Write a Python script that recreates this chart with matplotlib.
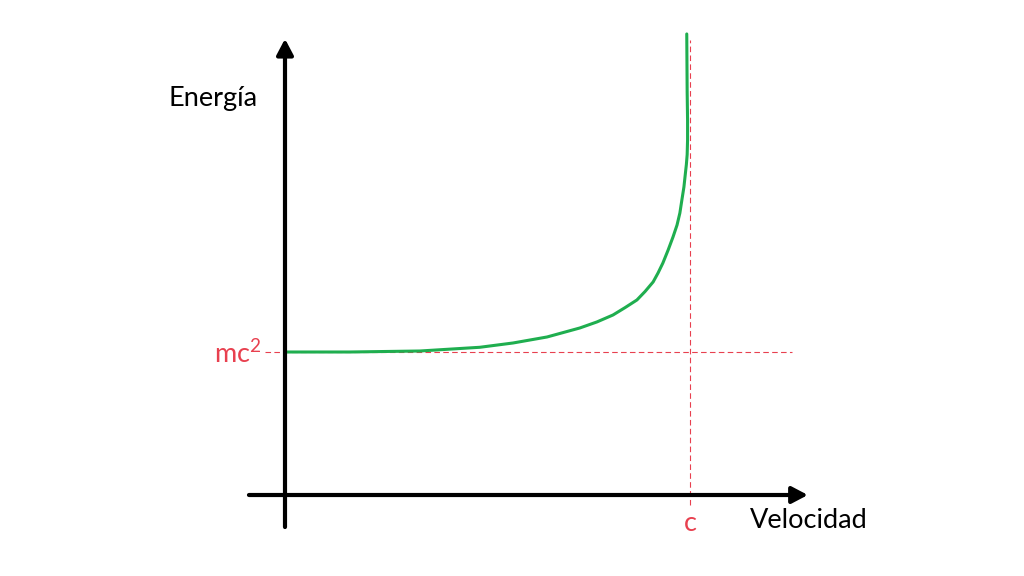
import numpy as np
import matplotlib.pyplot as plt

plt.rcParams['mathtext.fontset'] = 'custom'
plt.rcParams['mathtext.rm'] = 'Lato'
plt.rcParams['mathtext.it'] = 'Lato'

# Curve: velocity in units of c, energy in units of mc^2
velocidad = [0.0, 0.160, 0.333, 0.481, 0.563, 0.647, 0.728, 0.770, 0.810, 0.840,
             0.869, 0.889, 0.909, 0.921, 0.933, 0.946, 0.958, 0.968, 0.975, 0.980,
             0.985, 0.989, 0.991, 0.993, 0.994, 0.994, 0.993, 0.992]
energia = [1.0, 1.0, 1.007, 1.033, 1.063, 1.105, 1.168, 1.210, 1.259, 1.311,
           1.364, 1.423, 1.490, 1.552, 1.622, 1.713, 1.804, 1.888, 1.972, 2.064,
           2.154, 2.259, 2.310, 2.380, 2.483, 2.622, 2.818, 3.224]

rest_energy = 1.0   # mc^2
light_speed = 1.0   # c

fig = plt.figure(figsize=(10.24, 5.76), dpi=100)
ax = fig.add_axes([0, 0, 1, 1])
ax.set_xlim(-0.7037, 1.8247)
ax.set_ylim(-0.5664, 3.4615)
ax.axis('off')

red = '#e8404f'
green = '#1fae4f'

# dashed guide lines
ax.plot([-0.049, 1.252], [rest_energy, rest_energy], color=red, lw=0.8, dashes=(5, 3))
ax.plot([light_speed, light_speed], [-0.07, 3.18], color=red, lw=0.8, dashes=(5, 3))

# the curve
ax.plot(velocidad, energia, color=green, lw=2.2, solid_capstyle='round',
        solid_joinstyle='round')

# axes with arrows
arrow = dict(arrowstyle='-|>,head_length=0.95,head_width=0.5', lw=3, color='black',
             shrinkA=0, shrinkB=0, mutation_scale=10)
ax.annotate('', xy=(0, 3.19), xytext=(0, -0.224), arrowprops=arrow)
ax.annotate('', xy=(1.291, 0), xytext=(-0.089, 0), arrowprops=arrow)

font = 'Lato'
ax.text(-0.178, 2.776, 'Energía', fontsize=19.5, family=font, ha='center', va='center')
ax.text(-0.057, 0.985, 'mc$\\mathrm{^2}$', fontsize=19.5, family=font, color=red,
        ha='right', va='center')
ax.text(light_speed, -0.196, 'c', fontsize=19.5, family=font, color=red, ha='center', va='center')
ax.text(1.148, -0.175, 'Velocidad', fontsize=19.5, family=font, ha='left', va='center')

fig.savefig('out.png', dpi=100)
